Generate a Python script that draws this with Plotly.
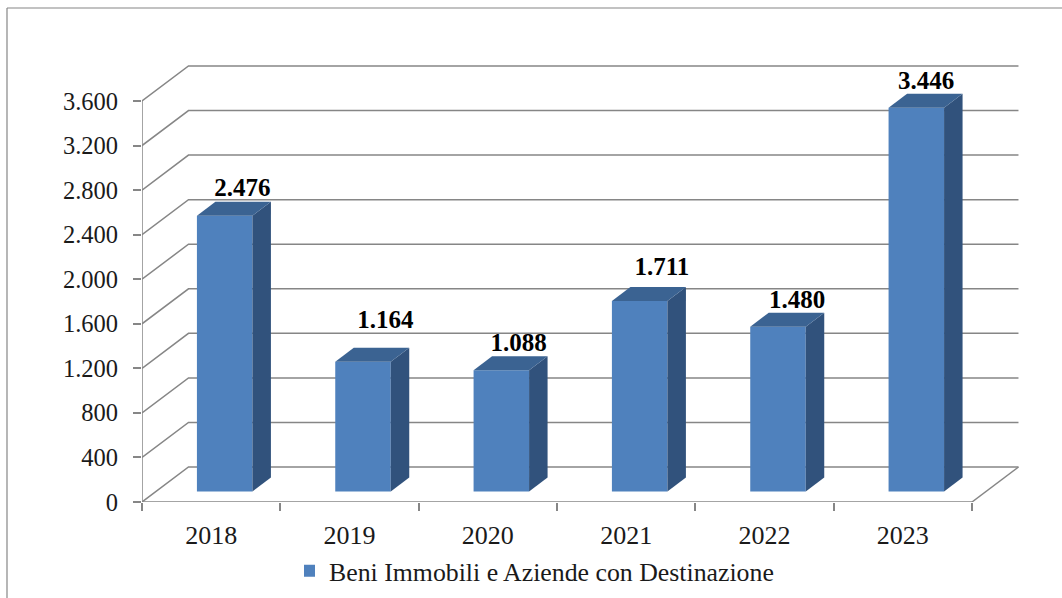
import plotly.graph_objects as go

# --- data ---
years = ["2018", "2019", "2020", "2021", "2022", "2023"]
values = [2476, 1164, 1088, 1711, 1480, 3446]
value_labels = ["2.476", "1.164", "1.088", "1.711", "1.480", "3.446"]
y_ticks = [0, 400, 800, 1200, 1600, 2000, 2400, 2800, 3200, 3600]
y_tick_labels = ["0", "400", "800", "1.200", "1.600", "2.000", "2.400", "2.800", "3.200", "3.600"]
series_name = "Beni Immobili e Aziende con Destinazione"

# --- style / geometry of the fake 3D view (axis units) ---
FONT = "Liberation Serif"
GRID = "#868686"
FRONT, TOP, SIDE = "#4F81BD", "#3B6392", "#31527C"
PX_X = 138.33
PX_Y = 401 / 3600
n = len(years)
wall_dx, wall_dy = 46.5 / PX_X, 35 / PX_Y
bar_w = 55.5 / PX_X
bar_shift = 13.5 / PX_X
bar_base = 10.5 / PX_Y
bar_dx, bar_dy = 18.5 / PX_X, 14 / PX_Y
# hand-placed label offsets in the original (pixels from bar's back-top centre)
label_nudge_x = [8.5, 13, 8, 13, 10, 0.5]
label_nudge_y = [12, 26, 12, 18, 11, 11]

L, R, T, B = 142, 43, 65, 96
W, H = 1062, 598
x_top = (W - L - R) / PX_X
y_top = (H - T - B) / PX_Y

fig = go.Figure()

# floor, walls, gridlines
gx, gy = [0, 0, None, 0, n, None, n, n + wall_dx, None], [0, y_ticks[-1], None, 0, 0, None, 0, wall_dy, None]
for v in y_ticks:
    gx += [0, wall_dx, n + wall_dx, None]
    gy += [v, v + wall_dy, v + wall_dy, None]
fig.add_trace(go.Scatter(x=gx, y=gy, mode="lines", line=dict(color=GRID, width=1.5),
                         cliponaxis=False, showlegend=False, hoverinfo="skip"))

# front faces
centres = [i + 0.5 + bar_shift for i in range(n)]
fig.add_trace(go.Bar(x=centres, y=values, base=[bar_base] * n, width=bar_w, name=series_name,
                     marker=dict(color=FRONT, line=dict(width=0)), xaxis="x2", yaxis="y2",
                     showlegend=True))

# top and side faces
for c, v in zip(centres, values):
    xl, xr = c - bar_w / 2, c + bar_w / 2
    t = bar_base + v
    fig.add_trace(go.Scatter(x=[xr, xr + bar_dx, xr + bar_dx, xr, xr],
                             y=[bar_base, bar_base + bar_dy, t + bar_dy, t, bar_base],
                             fill="toself", fillcolor=SIDE, mode="lines", line=dict(width=0),
                             xaxis="x2", yaxis="y2", showlegend=False, hoverinfo="skip", cliponaxis=False))
    fig.add_trace(go.Scatter(x=[xl, xr, xr + bar_dx, xl + bar_dx, xl],
                             y=[t, t, t + bar_dy, t + bar_dy, t],
                             fill="toself", fillcolor=TOP, mode="lines", line=dict(width=0),
                             xaxis="x2", yaxis="y2", showlegend=False, hoverinfo="skip", cliponaxis=False))

# value labels
fig.add_trace(go.Scatter(
    x=[c + bar_dx / 2 + nx / PX_X for c, nx in zip(centres, label_nudge_x)],
    y=[bar_base + v + bar_dy + ny / PX_Y for v, ny in zip(values, label_nudge_y)],
    text=value_labels, mode="text", textposition="middle center",
    textfont=dict(family=FONT, size=25, color="#000000"),
    texttemplate="<b>%{text}</b>",
    xaxis="x2", yaxis="y2", showlegend=False, hoverinfo="skip", cliponaxis=False))

x_font = dict(family=FONT, size=26, color="#1a1a1a")
y_font = dict(family=FONT, size=24.5, color="#1a1a1a")
fig.update_layout(
    width=W, height=H, autosize=False,
    margin=dict(l=L, r=R, t=T, b=B, pad=0, autoexpand=False),
    paper_bgcolor="white", plot_bgcolor="white",
    font=dict(family=FONT),
    showlegend=True,
    xaxis=dict(range=[0, x_top], showgrid=False, zeroline=False, showline=False,
               tickmode="array", tickvals=[i + 0.5 for i in range(n)], ticktext=years,
               ticks="", ticklabelstandoff=15, tickfont=x_font,
               minor=dict(tickmode="array", tickvals=list(range(n + 1)), ticks="outside",
                          ticklen=8, tickcolor=GRID, tickwidth=1.5, showgrid=False)),
    yaxis=dict(range=[0, y_top], showgrid=False, zeroline=False, showline=False,
               tickmode="array", tickvals=y_ticks, ticktext=y_tick_labels,
               ticks="outside", ticklen=8, tickcolor=GRID, tickwidth=1.5,
               ticklabelstandoff=10, tickfont=y_font),
    xaxis2=dict(range=[0, x_top], overlaying="x", visible=False),
    yaxis2=dict(range=[0, y_top], overlaying="y", visible=False),
    legend=dict(orientation="h", xref="container", yref="container",
                x=304 / W, xanchor="left", y=1 - 571 / H, yanchor="middle",
                font=dict(family=FONT, size=25.8, color="#1a1a1a"),
                bgcolor="rgba(0,0,0,0)", itemwidth=30, indentation=-15),
    shapes=[
        dict(type="line", xref="paper", yref="paper", line=dict(color=GRID, width=1.2),
             x0=(7 - L) / (W - L - R), x1=(7 - L) / (W - L - R),
             y0=(H - B - 8) / (H - T - B), y1=(H - B - H) / (H - T - B)),
        dict(type="line", xref="paper", yref="paper", line=dict(color=GRID, width=1.2),
             x0=(7 - L) / (W - L - R), x1=(W - L) / (W - L - R),
             y0=(H - B - 8) / (H - T - B), y1=(H - B - 8) / (H - T - B)),
    ],
)
fig.write_html("out.html", config={"displayModeBar": False},
               post_script="document.body.style.margin='0';document.documentElement.style.overflow='hidden';")
